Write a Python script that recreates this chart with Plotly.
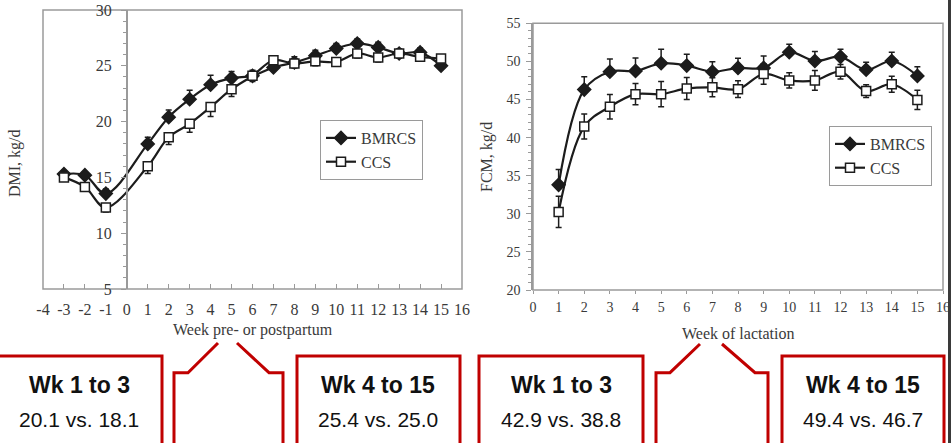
import plotly.graph_objects as go

W, H = 952, 443

# ---------------- Data ----------------
# Left chart: dry matter intake (DMI, kg/d) by week pre- or postpartum
dmi_weeks = [-3, -2, -1, 1, 2, 3, 4, 5, 6, 7, 8, 9, 10, 11, 12, 13, 14, 15]
dmi_bmrcs = [15.3, 15.2, 13.55, 18.0, 20.4, 22.0, 23.3, 23.9, 24.1, 24.85, 25.3, 25.9, 26.55, 27.0, 26.65, 26.1, 26.2, 25.0]
dmi_bmrcs_se = [0.3, 0.3, 0.4, 0.6, 0.65, 0.8, 0.85, 0.6, 0.5, 0.5, 0.5, 0.5, 0.45, 0.4, 0.45, 0.4, 0.4, 0.4]
dmi_ccs = [15.0, 14.15, 12.3, 16.0, 18.6, 19.8, 21.3, 22.9, 24.1, 25.5, 25.2, 25.4, 25.35, 26.1, 25.75, 26.1, 25.8, 25.65]
dmi_ccs_se = [0.3, 0.3, 0.4, 0.65, 0.65, 0.75, 0.85, 0.65, 0.5, 0.4, 0.4, 0.4, 0.4, 0.4, 0.4, 0.4, 0.4, 0.4]

# Right chart: fat-corrected milk (FCM, kg/d) by week of lactation
fcm_weeks = [1, 2, 3, 4, 5, 6, 7, 8, 9, 10, 11, 12, 13, 14, 15]
fcm_bmrcs = [33.8, 46.3, 48.65, 48.75, 49.75, 49.45, 48.65, 49.15, 49.15, 51.2, 50.05, 50.6, 48.9, 50.05, 48.1]
fcm_bmrcs_se = [2.0, 1.7, 1.65, 1.7, 1.85, 1.5, 1.3, 1.25, 1.55, 1.05, 1.25, 1.0, 1.0, 1.15, 1.2]
fcm_ccs = [30.25, 41.45, 44.05, 45.7, 45.7, 46.45, 46.6, 46.35, 48.35, 47.5, 47.5, 48.65, 46.1, 47.0, 44.95]
fcm_ccs_se = [2.05, 1.65, 1.6, 1.4, 1.65, 1.45, 1.25, 1.1, 1.35, 1.0, 1.3, 0.95, 0.85, 1.05, 1.25]

left_xticks = list(range(-4, 17))
left_xticklabels = [str(v) for v in left_xticks]
right_xticks = list(range(0, 17))
right_xticklabels = [str(v) for v in right_xticks]

box_titles = ["Wk 1 to 3", "Wk 4 to 15", "Wk 1 to 3", "Wk 4 to 15"]
box_values = ["20.1 vs. 18.1", "25.4 vs. 25.0", "42.9 vs. 38.8", "49.4 vs. 46.7"]

# ---------------- Style helpers ----------------
def px(x):
    return x / W

def py(y):
    return 1 - y / H

DARK = "#1c1c1c"
GRAY = "#9a9a9a"
TXT = "#3a3a3a"
RED = "#C00000"
SERIF = "Liberation Serif, Times New Roman, serif"
SANS = "Liberation Sans, Arial, sans-serif"

fig = go.Figure()

def add_series(x, y, se, name, symbol, fill, xa, ya, leg, sym_err, show_minus):
    err = dict(type="data", array=se, color=DARK, thickness=1.5, width=3)
    if sym_err:
        err["symmetric"] = True
    else:
        err["symmetric"] = False
        if show_minus:
            err["arrayminus"] = se
            err["array"] = [0] * len(se)
        else:
            err["arrayminus"] = [0] * len(se)
    fig.add_trace(go.Scatter(
        x=x, y=y, name=name, mode="lines+markers",
        line=dict(color=DARK, width=2.2, shape="spline", smoothing=1.0),
        marker=dict(symbol=symbol, size=10 if symbol == "diamond" else 9,
                    color=fill, line=dict(color=DARK, width=1.5)),
        error_y=err, xaxis=xa, yaxis=ya, legend=leg,
    ))

add_series(dmi_weeks, dmi_bmrcs, dmi_bmrcs_se, "BMRCS", "diamond", DARK, "x", "y", "legend", False, False)
add_series(dmi_weeks, dmi_ccs, dmi_ccs_se, "CCS", "square", "white", "x", "y", "legend", False, True)
add_series(fcm_weeks, fcm_bmrcs, fcm_bmrcs_se, "BMRCS", "diamond", DARK, "x2", "y2", "legend2", False, False)
add_series(fcm_weeks, fcm_ccs, fcm_ccs_se, "CCS", "square", "white", "x2", "y2", "legend2", True, False)

axis_common = dict(showgrid=False, zeroline=False, automargin=False)

fig.update_layout(
    width=W, height=H,
    margin=dict(l=0, r=0, t=0, b=0),
    paper_bgcolor="white", plot_bgcolor="white",
    showlegend=True,
    xaxis=dict(**axis_common, domain=[px(43), px(462)], range=[-4, 16], anchor="y",
               tickmode="array", tickvals=left_xticks, ticktext=left_xticklabels,
               ticks="inside", ticklen=5, tickcolor=GRAY, showline=False,
               tickfont=dict(family=SERIF, size=16, color=TXT), ticklabelstandoff=9),
    yaxis=dict(**axis_common, domain=[py(289), py(10)], range=[5, 30], anchor="free",
               position=px(126.8), tickmode="linear", tick0=5, dtick=5,
               ticks="outside", ticklen=5, tickcolor=GRAY,
               minor=dict(dtick=1, ticks="outside", ticklen=3, tickcolor=GRAY),
               showline=True, linecolor=GRAY, linewidth=1.5,
               tickfont=dict(family=SERIF, size=16, color=TXT), ticklabelstandoff=6),
    xaxis2=dict(**axis_common, domain=[px(533), px(943)], range=[0, 16], anchor="y2",
                tickmode="array", tickvals=right_xticks, ticktext=right_xticklabels,
                ticks="outside", ticklen=3, tickcolor=GRAY, showline=False,
                tickfont=dict(family=SERIF, size=14, color=TXT), ticklabelstandoff=1),
    yaxis2=dict(**axis_common, domain=[py(290), py(23.3)], range=[20, 55], anchor="x2",
                tickmode="linear", tick0=20, dtick=5,
                ticks="outside", ticklen=5, tickcolor=GRAY,
                minor=dict(dtick=1, ticks="outside", ticklen=3, tickcolor=GRAY),
                showline=True, linecolor=GRAY, linewidth=1.5,
                tickfont=dict(family=SERIF, size=14, color=TXT), ticklabelstandoff=3),
    legend=dict(x=px(320), y=py(120), xanchor="left", yanchor="top",
                bordercolor=GRAY, borderwidth=1, bgcolor="white",
                font=dict(family=SERIF, size=16, color=TXT), itemwidth=30, tracegroupgap=0),
    legend2=dict(x=px(829), y=py(126), xanchor="left", yanchor="top",
                 bordercolor=GRAY, borderwidth=1, bgcolor="white",
                 font=dict(family=SERIF, size=16, color=TXT), itemwidth=30, tracegroupgap=0),
)

# Plot frames
fig.add_shape(type="rect", xref="x domain", yref="y domain", x0=0, x1=1, y0=0, y1=1,
              line=dict(color=GRAY, width=1.5), layer="below")
fig.add_shape(type="rect", xref="x2 domain", yref="y2 domain", x0=0, x1=1, y0=0, y1=1,
              line=dict(color=GRAY, width=1.5), layer="below")

# Axis titles
annots = [
    dict(text="Week pre- or postpartum", x=px(253), y=py(330), size=16, angle=0),
    dict(text="DMI, kg/d", x=px(15), y=py(163), size=16, angle=-90),
    dict(text="Week of lactation", x=px(738), y=py(333), size=16, angle=0),
    dict(text="FCM, kg/d", x=px(487), y=py(157), size=16, angle=-90),
]
for a in annots:
    fig.add_annotation(text=a["text"], x=a["x"], y=a["y"], xref="paper", yref="paper",
                       showarrow=False, textangle=a["angle"], xanchor="center", yanchor="middle",
                       font=dict(family=SERIF, size=a["size"], color=TXT))

# Red summary boxes
boxes = [(-3, 162), (297, 460), (479, 643), (782, 944)]
centers = [79, 378, 561, 863]
for (bx0, bx1), cx, t, v in zip(boxes, centers, box_titles, box_values):
    fig.add_shape(type="rect", xref="paper", yref="paper",
                  x0=px(bx0), x1=px(bx1), y0=py(470), y1=py(356),
                  line=dict(color=RED, width=3), fillcolor="rgba(0,0,0,0)")
    fig.add_annotation(text="<b>" + t + "</b>", x=px(cx), y=py(385), xref="paper", yref="paper",
                       showarrow=False, xanchor="center", yanchor="middle",
                       font=dict(family=SANS, size=23, color="#111111"))
    fig.add_annotation(text=v, x=px(cx), y=py(419), xref="paper", yref="paper",
                       showarrow=False, xanchor="center", yanchor="middle",
                       font=dict(family=SANS, size=21, color="#111111"))

# Bracket connectors
def path(points):
    s = "M {:.5f},{:.5f}".format(px(points[0][0]), py(points[0][1]))
    for (a, b) in points[1:]:
        s += " L {:.5f},{:.5f}".format(px(a), py(b))
    return s

brackets = [
    [(174, 470), (174, 372.7), (188, 372.7), (218, 343)],
    [(237, 343), (269, 372.7), (283, 372.7), (283, 470)],
    [(656, 470), (656, 372.7), (670, 372.7), (700, 344)],
    [(722, 344), (755, 372.7), (768, 372.7), (768, 470)],
]
for b in brackets:
    fig.add_shape(type="path", xref="paper", yref="paper", path=path(b),
                  line=dict(color=RED, width=3))

# Dark right edge line
fig.add_shape(type="line", xref="paper", yref="paper", x0=px(949.5), x1=px(949.5), y0=0, y1=1,
              line=dict(color="#3a3a3a", width=3))

fig.write_html("out.html", config={"displayModeBar": False},
               post_script="document.body.style.margin='0';document.body.style.overflow='hidden';")
